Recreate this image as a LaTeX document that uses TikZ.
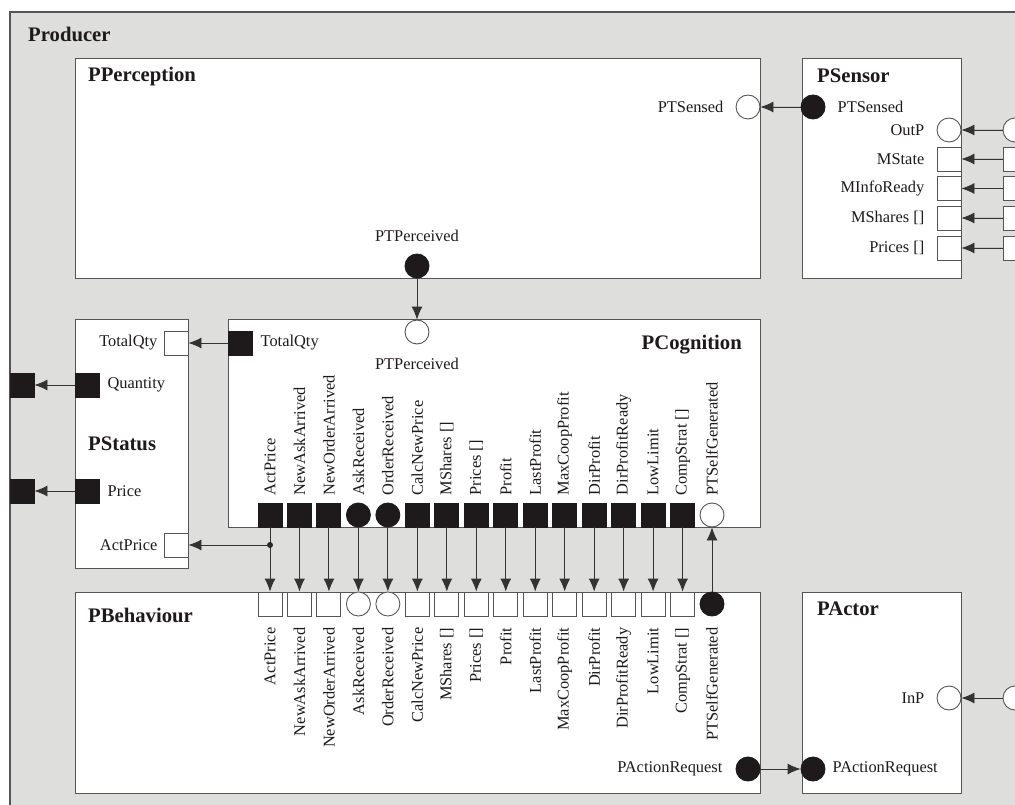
\documentclass[tikz,border=0pt]{standalone}
\usepackage{fontspec}
\setmainfont{Liberation Serif}
\usetikzlibrary{arrows.meta,positioning}

\definecolor{prodgray}{RGB}{222,222,220}
\definecolor{edgegray}{RGB}{85,85,85}
\definecolor{portblack}{RGB}{30,26,27}

\tikzset{
  block/.style={draw=edgegray, line width=1.3pt, fill=white, anchor=north west, inner sep=0pt},
  title/.style={font=\bfseries\fontsize{20.7}{24}\selectfont, inner sep=0pt, text=portblack},
  lab/.style={font=\fontsize{16.4}{19}\selectfont, inner sep=0pt, text=portblack},
  vlab/.style={lab, rotate=90},
  opensq/.style={draw=edgegray, line width=0.9pt, fill=white, minimum size=24pt, inner sep=0pt},
  fillsq/.style={opensq, fill=portblack, draw=portblack},
  opencirc/.style={opensq, circle},
  fillcirc/.style={fillsq, circle},
  cogport/.style={fillsq, shape=#1},
  behport/.style={opensq, shape=#1},
  link/.style={->, line width=0.9pt, draw=black!80, fill=black!90},
}

\begin{document}
\begin{tikzpicture}[x=1pt, y=-1pt, >={Latex[length=13pt,width=11pt]}]
  \useasboundingbox (0,0) rectangle (1015,805);
  \clip (0,0) rectangle (1015,805);
  \fill[white] (0,0) rectangle (1015,805);

  % Producer frame (runs on past the right and bottom edge)
  \draw[edgegray, line width=1.3pt, fill=prodgray] (10,12) rectangle (1040,830);
  \node[title, anchor=base west] (producer) at (28,42) {Producer};

  % inner blocks
  \node[block, minimum width=685pt, minimum height=220pt] (pperc) at (75,58) {};
  \node[block, minimum width=159pt, minimum height=220pt] (psens) at (802,58) {};
  \node[block, minimum width=113pt, minimum height=249pt] (pstat) at (75,319) {};
  \node[block, minimum width=532pt, minimum height=208pt] (pcog) at (228,319) {};
  \node[block, minimum width=685pt, minimum height=201pt] (pbeh) at (75,592) {};
  \node[block, minimum width=159pt, minimum height=201pt] (pact) at (802,592) {};

  \node[title, anchor=base west] (tperc) at (88,82) {PPerception};
  \node[title, anchor=base west] (tsens) at (817,83) {PSensor};
  \node[title, anchor=base west] (tstat) at (88,450) {PStatus};
  \node[title, anchor=base east] (tcog) at (742,349) {PCognition};
  \node[title, anchor=base west] (tbeh) at (88,622) {PBehaviour};
  \node[title, anchor=base west] (tact) at (817,615) {PActor};

  % PPerception / PSensor
  \node[opencirc] (percsensed) at (748,107) {};
  \node[lab, left=12pt of percsensed] (lpercsensed) {PTSensed};
  \node[fillcirc] (senssensed) at (813,107) {};
  \node[lab, right=12pt of senssensed] (lsenssensed) {PTSensed};
  \draw[link] (senssensed) -- (percsensed);

  \foreach \y/\nm/\lab/\kind in {130/outp/OutP/circle, 159/mstate/MState/rectangle,
      188.5/minfo/MInfoReady/rectangle, 218/mshares/MShares []/rectangle,
      248/prices/Prices []/rectangle}{
    \node[behport=\kind] (sens\nm) at (949,\y) {};
    \node[lab, left=12pt of sens\nm] (lsens\nm) {\lab};
    \node[behport=\kind] (ext\nm) at (1015,\y) {};
    \draw[link] (ext\nm) -- (sens\nm);
  }

  \node[fillcirc] (percout) at (417,266) {};
  \node[lab, above=12pt of percout] (lpercout) {PTPerceived};

  % PStatus
  \node[opensq] (sttotal) at (176,343) {};
  \node[lab, left=6pt of sttotal] (lsttotal) {TotalQty};
  \node[fillsq] (stqty) at (87,385) {};
  \node[lab, right=8pt of stqty] (lstqty) {Quantity};
  \node[fillsq] (xqty) at (22,385) {};
  \draw[link] (stqty) -- (xqty);
  \node[fillsq] (stprice) at (87,491) {};
  \node[lab, right=8pt of stprice] (lstprice) {Price};
  \node[fillsq] (xprice) at (22,491) {};
  \draw[link] (stprice) -- (xprice);
  \node[opensq] (stact) at (176,545) {};
  \node[lab, left=6pt of stact] (lstact) {ActPrice};

  % PCognition
  \node[fillsq] (cogtotal) at (240,343) {};
  \node[lab, right=8pt of cogtotal] (lcogtotal) {TotalQty};
  \draw[link] (cogtotal) -- (sttotal);
  \node[opencirc] (cogperc) at (417,332) {};
  \node[lab, below=13pt of cogperc] (lcogperc) {PTPerceived};
  \draw[link] (percout) -- (cogperc);

  % PCognition -> PBehaviour ports
  \foreach \k/\lab/\kind in {1/ActPrice/rectangle, 2/NewAskArrived/rectangle,
      3/NewOrderArrived/rectangle, 4/AskReceived/circle, 5/OrderReceived/circle,
      6/CalcNewPrice/rectangle, 7/MShares []/rectangle, 8/Prices []/rectangle,
      9/Profit/rectangle, 10/LastProfit/rectangle, 11/MaxCoopProfit/rectangle,
      12/DirProfit/rectangle, 13/DirProfitReady/rectangle, 14/LowLimit/rectangle,
      15/CompStrat []/rectangle}{
    \node[cogport=\kind] (cog\k) at ({270+29.47*(\k-1)},515) {};
    \node[behport=\kind] (beh\k) at ({270+29.47*(\k-1)},604) {};
    \node[vlab, anchor=west] (lcog\k) at ([yshift=7pt]cog\k.north) {\lab};
    \node[vlab, anchor=east] (lbeh\k) at ([yshift=-11pt]beh\k.south) {\lab};
    \draw[link] (cog\k) -- (beh\k);
  }
  \node[opencirc] (cog16) at (712,515) {};
  \node[fillcirc] (beh16) at (712,604) {};
  \node[vlab, anchor=west] (lcog16) at ([yshift=7pt]cog16.north) {PTSelfGenerated};
  \node[vlab, anchor=east] (lbeh16) at ([yshift=-11pt]beh16.south) {PTSelfGenerated};
  \draw[link] (beh16) -- (cog16);

  % ActPrice also goes back to PStatus
  \coordinate (actjoin) at (cog1 |- stact);
  \fill[black!85] (actjoin) circle (3pt);
  \draw[link] (actjoin) -- (stact);

  % PBehaviour -> PActor
  \node[fillcirc] (behreq) at (748,769) {};
  \node[lab, left=13pt of behreq] (lbehreq) {PActionRequest};
  \node[fillcirc] (actreq) at (813,769) {};
  \node[lab, right=7pt of actreq] (lactreq) {PActionRequest};
  \draw[link] (behreq) -- (actreq);

  \node[opencirc] (actinp) at (949,698) {};
  \node[lab, left=12pt of actinp] (lactinp) {InP};
  \node[opencirc] (xinp) at (1015,698) {};
  \draw[link] (xinp) -- (actinp);
\end{tikzpicture}
\end{document}
